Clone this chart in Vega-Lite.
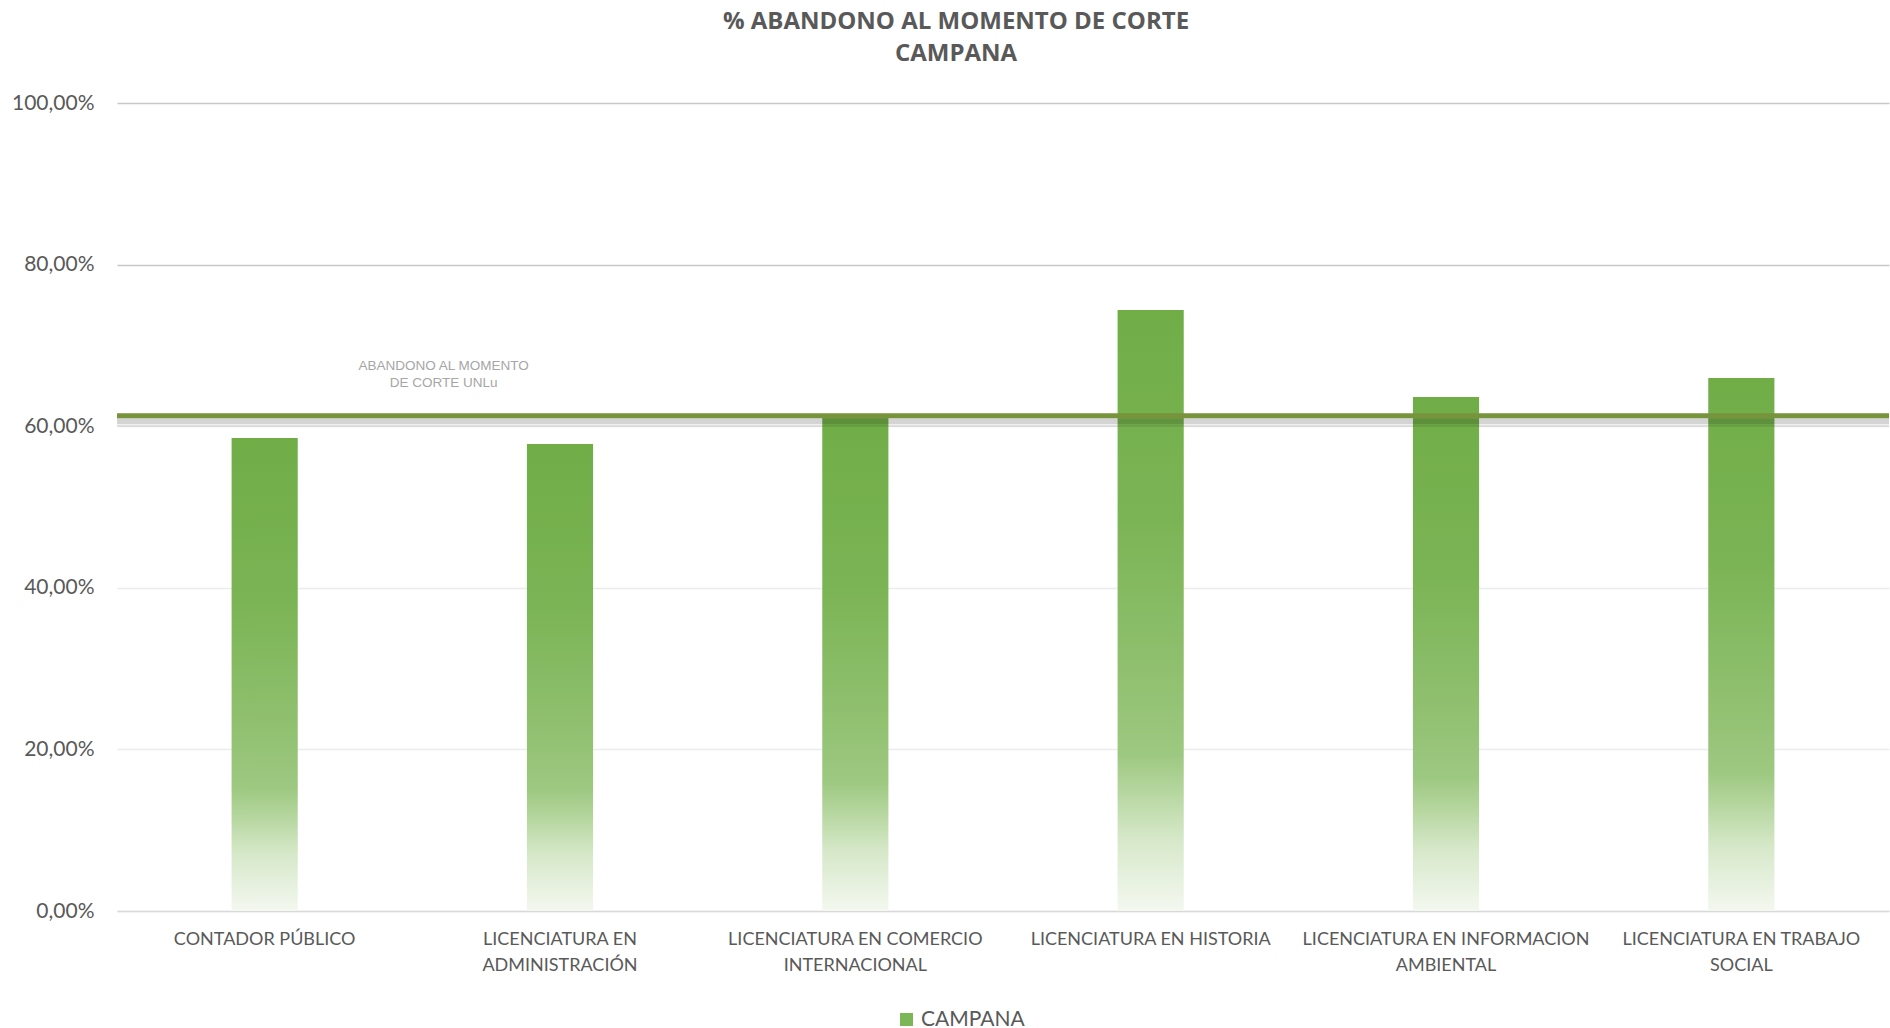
{
  "$schema": "https://vega.github.io/schema/vega-lite/v6.json",
  "width": 1772,
  "height": 808,
  "autosize": {"type": "none"},
  "padding": {"left": 117, "top": 103, "right": 1, "bottom": 117},
  "background": "#ffffff",
  "title": {
    "text": ["% ABANDONO AL MOMENTO DE CORTE", "CAMPANA"],
    "font": "Open Sans",
    "fontSize": 24,
    "fontWeight": "bold",
    "color": "#595959",
    "lineHeight": 32,
    "anchor": "middle",
    "dx": -47,
    "offset": 26
  },
  "config": {
    "view": {"stroke": null},
    "font": "Lato"
  },
  "datasets": {
    "barras": [
      {"carrera": "CONTADOR PÚBLICO", "serie": "CAMPANA", "valor": 0.5854},
      {"carrera": "LICENCIATURA EN ADMINISTRACIÓN", "serie": "CAMPANA", "valor": 0.5780},
      {"carrera": "LICENCIATURA EN COMERCIO INTERNACIONAL", "serie": "CAMPANA", "valor": 0.6150},
      {"carrera": "LICENCIATURA EN HISTORIA", "serie": "CAMPANA", "valor": 0.7438},
      {"carrera": "LICENCIATURA EN INFORMACION AMBIENTAL", "serie": "CAMPANA", "valor": 0.6361},
      {"carrera": "LICENCIATURA EN TRABAJO SOCIAL", "serie": "CAMPANA", "valor": 0.6597}
    ],
    "unlu": [
      {"carrera": "CONTADOR PÚBLICO", "serie": "ABANDONO AL MOMENTO DE CORTE UNLu", "valor": 0.6129}
    ]
  },
  "layer": [
    {
      "data": {"name": "barras"},
      "mark": {
        "type": "bar",
        "fill": {
          "gradient": "linear",
          "x1": 0, "y1": 0, "x2": 0, "y2": 1,
          "stops": [
            {"offset": 0, "color": "#70AD47"},
            {"offset": 0.35, "color": "#7BB455"},
            {"offset": 0.6, "color": "#90C06F"},
            {"offset": 0.74, "color": "#9DC881"},
            {"offset": 0.8, "color": "#B5D69E"},
            {"offset": 0.88, "color": "#D6E8C9"},
            {"offset": 1, "color": "#F4F8F0"}
          ]
        }
      },
      "encoding": {
        "x": {
          "field": "carrera",
          "type": "nominal",
          "sort": null,
          "scale": {"paddingInner": 0.776, "paddingOuter": 0.388},
          "axis": {
            "title": null,
            "labelAngle": 0,
            "ticks": false,
            "domainColor": "#d9d9d9",
            "domainWidth": 1.5,
            "labelFont": "Lato",
            "labelFontSize": 18,
            "labelColor": "#595959",
            "labelPadding": 19,
            "labelLineHeight": 26,
            "labelBaseline": "top",
            "labelLimit": 400,
            "labelExpr": "length(datum.label) > 24 ? [substring(datum.label, 0, lastindexof(datum.label, ' ')), substring(datum.label, lastindexof(datum.label, ' ') + 1)] : datum.label"
          }
        },
        "y": {
          "field": "valor",
          "type": "quantitative",
          "scale": {"domain": [0, 1], "nice": false},
          "axis": {
            "title": null,
            "values": [0, 0.2, 0.4, 0.6, 0.8, 1],
            "ticks": false,
            "domain": false,
            "labelFont": "Lato",
            "labelFontSize": 21,
            "labelColor": "#595959",
            "labelPadding": 23,
            "labelExpr": "replace(format(datum.value, '.2%'), '.', ',')",
            "gridColor": {"condition": {"test": "datum.value >= 0.7", "value": "#c8c8c8"}, "value": "#ececec"},
            "gridWidth": 1.5
          }
        },
        "color": {
          "field": "serie",
          "type": "nominal",
          "scale": {"domain": ["CAMPANA"], "range": ["#7DB657"]},
          "legend": {
            "title": null,
            "orient": "none",
            "legendX": 779,
            "legendY": 906,
            "symbolType": "square",
            "symbolSize": 169,
            "symbolStrokeWidth": 0,
            "labelFont": "Lato",
            "labelFontSize": 21,
            "labelColor": "#595959",
            "labelOffset": 4
          }
        }
      }
    },
    {
      "data": {"name": "unlu"},
      "mark": {"type": "rule", "color": "#000000", "opacity": 0.17, "strokeWidth": 6, "yOffset": 5.5},
      "encoding": {"y": {"field": "valor", "type": "quantitative"}}
    },
    {
      "data": {"name": "unlu"},
      "mark": {"type": "rule", "color": "#000000", "opacity": 0.1, "strokeWidth": 2, "yOffset": 10},
      "encoding": {"y": {"field": "valor", "type": "quantitative"}}
    },
    {
      "data": {"name": "unlu"},
      "mark": {"type": "rule", "color": "#77933C", "strokeWidth": 5},
      "encoding": {"y": {"field": "valor", "type": "quantitative"}}
    },
    {
      "data": {"name": "unlu"},
      "mark": {
        "type": "text",
        "font": "Liberation Sans",
        "fontSize": 13.5,
        "color": "#a6a6a6",
        "align": "center",
        "baseline": "middle",
        "lineHeight": 17,
        "dx": 179,
        "dy": -50
      },
      "encoding": {
        "x": {"field": "carrera", "type": "nominal", "sort": null},
        "y": {"field": "valor", "type": "quantitative"},
        "text": {"value": ["ABANDONO AL MOMENTO", "DE CORTE UNLu"]}
      }
    }
  ]
}
